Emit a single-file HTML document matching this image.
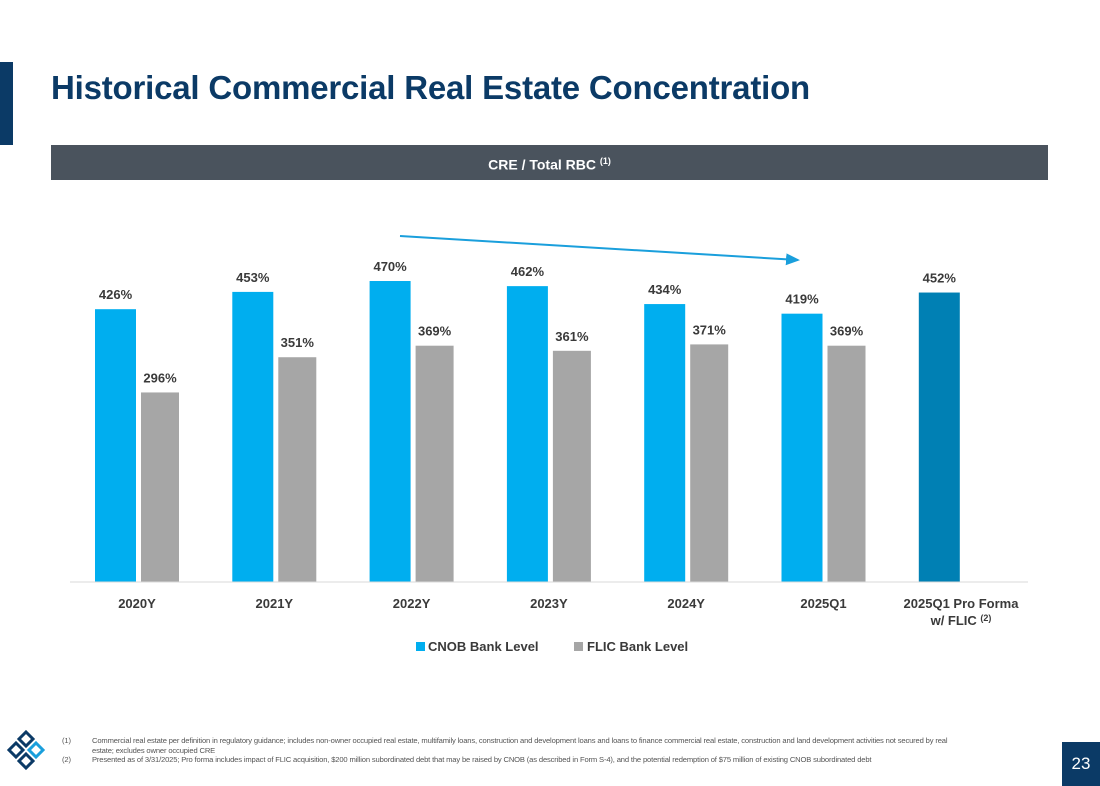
<!DOCTYPE html>
<html><head><meta charset="utf-8"><style>
body{margin:0;width:1100px;height:786px;background:#fff;font-family:"Liberation Sans",sans-serif;position:relative;overflow:hidden}
.abs{position:absolute}
</style></head><body>
<div class="abs" style="left:0;top:62px;width:13px;height:83px;background:#0b3a66"></div>
<div class="abs" style="left:51px;top:69px;font-size:33px;font-weight:bold;color:#0b3a66;letter-spacing:-0.2px;white-space:nowrap">Historical Commercial Real Estate Concentration</div>
<div class="abs" style="left:51px;top:145px;width:997px;height:35px;background:#4a535d;color:#fff;font-weight:bold;font-size:14px;text-align:center;line-height:33px">CRE / Total RBC <sup style="font-size:9px">(1)</sup></div>
<svg class="abs" style="left:0;top:0" width="1100" height="786">
<defs><marker id="ah" markerWidth="8" markerHeight="8" refX="6" refY="4" orient="auto"><path d="M0,1 L7,4 L0,7 Z" fill="#1a9fdc"/></marker></defs>
<line x1="400" y1="236" x2="798" y2="260" stroke="#1a9fdc" stroke-width="2" marker-end="url(#ah)"/>
<g id="bars"></g>
<line x1="70" y1="582" x2="1028" y2="582" stroke="#d9d9d9" stroke-width="1"/>
<rect x="416" y="642" width="9" height="9" fill="#00aeef"/>
<text x="428" y="651" font-size="13" font-weight="bold" fill="#3a3a3a">CNOB Bank Level</text>
<rect x="574" y="642" width="9" height="9" fill="#a6a6a6"/>
<text x="587" y="651" font-size="13" font-weight="bold" fill="#3a3a3a">FLIC Bank Level</text>
</svg>
<svg class="abs" style="left:4px;top:729px" width="44" height="48">
<g fill="none" stroke-width="3"><path d="M22,3 L29,10 L22,17 L15,10Z" stroke="#0b3a66"/><path d="M12,14 L19,21 L12,28 L5,21Z" stroke="#0b3a66"/><path d="M32,14 L39,21 L32,28 L25,21Z" stroke="#1a9fdc"/><path d="M22,25 L29,32 L22,39 L15,32Z" stroke="#0b3a66"/></g>
</svg>
<div class="abs" style="left:62px;top:736px;width:900px;font-size:7.6px;color:#555;line-height:9.5px;letter-spacing:-0.15px">
<div style="display:flex"><span style="width:30px;flex:none">(1)</span><span>Commercial real estate per definition in regulatory guidance; includes non-owner occupied real estate, multifamily loans, construction and development loans and loans to finance commercial real estate, construction and land development activities not secured by real estate; excludes owner occupied CRE</span></div>
<div style="display:flex"><span style="width:30px;flex:none">(2)</span><span>Presented as of 3/31/2025; Pro forma includes impact of FLIC acquisition, $200 million subordinated debt that may be raised by CNOB (as described in Form S-4), and the potential redemption of $75 million of existing CNOB subordinated debt</span></div>
</div>
<div class="abs" style="left:1062px;top:742px;width:38px;height:44px;background:#0b3a66;color:#fff;font-size:17px;text-align:center;line-height:44px">23</div>
<script>
const categories=["2020Y","2021Y","2022Y","2023Y","2024Y","2025Q1","2025Q1 Pro Forma"];
const cnob=[426,453,470,462,434,419,452];
const flic=[296,351,369,361,371,369,null];
const NS="http://www.w3.org/2000/svg";
const g=document.getElementById("bars");
const y=v=>582-v*0.6404;
const cx=i=>137+137.3*i;
function mk(t,a){const e=document.createElementNS(NS,t);for(const k in a)e.setAttribute(k,a[k]);g.appendChild(e);return e;}
categories.forEach((c,i)=>{
  const last=i===categories.length-1;
  const x1=cx(i)-42;
  let r=mk("rect",{x:x1,y:y(cnob[i]),width:41,height:582-y(cnob[i]),fill:last?"#0080b4":"#00aeef"});
  
  
  let t=mk("text",{x:x1+20.5,y:y(cnob[i])-10,"text-anchor":"middle","font-size":"13","font-weight":"bold",fill:"#3a3a3a"});
  t.textContent=cnob[i]+"%";
  
  
  if(flic[i]!=null){
    const x2=cx(i)+4;
    let r2=mk("rect",{x:x2,y:y(flic[i]),width:38,height:582-y(flic[i]),fill:"#a6a6a6"});
    
    
    let t2=mk("text",{x:x2+19,y:y(flic[i])-10,"text-anchor":"middle","font-size":"13","font-weight":"bold",fill:"#3a3a3a"});
    t2.textContent=flic[i]+"%";
    
    
  }
  let lx=last?961:cx(i);
  let ct=mk("text",{x:lx,y:608,"text-anchor":"middle","font-size":"13","font-weight":"bold",fill:"#3a3a3a"});
  ct.textContent=c;
  
  
  if(last){
    let ct2=mk("text",{x:lx,y:625,"text-anchor":"middle","font-size":"13","font-weight":"bold",fill:"#3a3a3a"});
    ct2.innerHTML='w/ FLIC <tspan font-size="9" dy="-4">(2)</tspan>';
    
    
  }
});
</script>
</body></html>
